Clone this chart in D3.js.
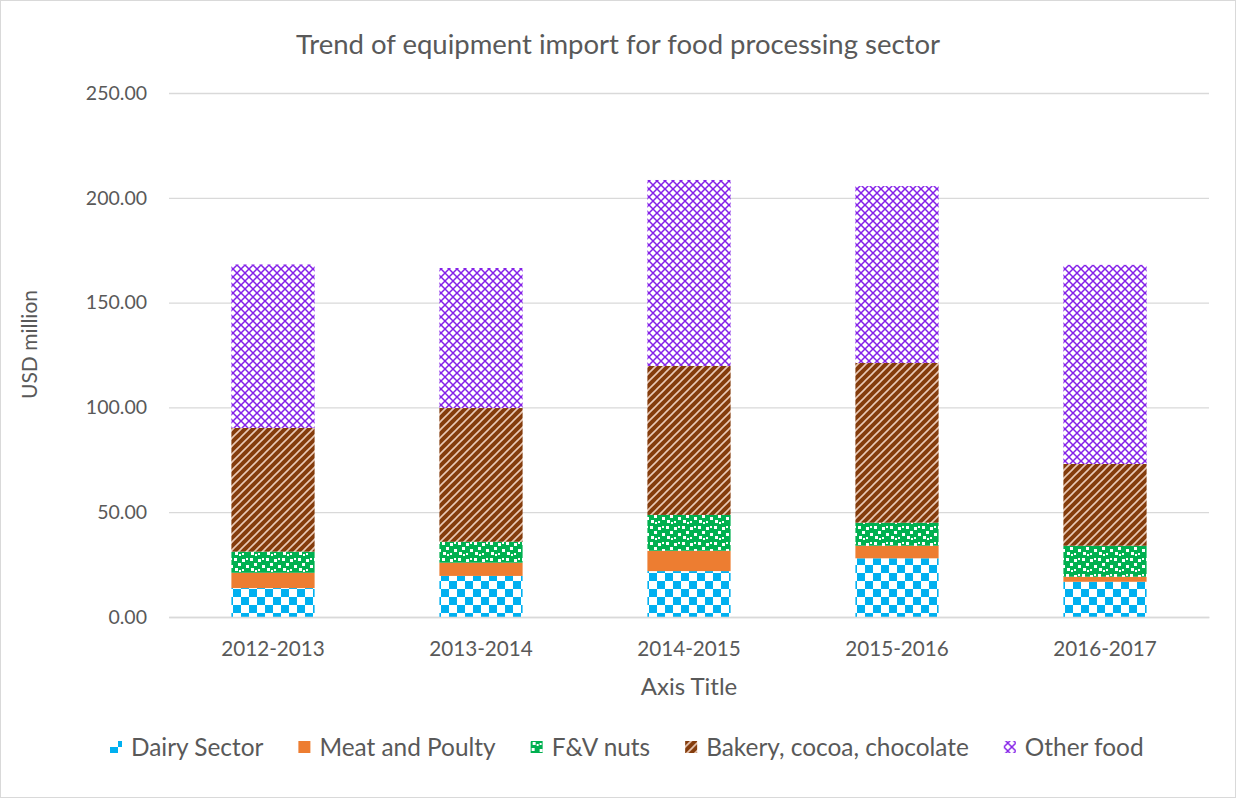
<!DOCTYPE html>
<html><head><meta charset="utf-8">
<script src="https://cdn.jsdelivr.net/npm/d3@7"></script>
<style>body{margin:0;background:#fff}svg{display:block}text{font-family:Lato,"Open Sans",sans-serif;fill:#595959}</style>
</head><body><svg id="c" width="1236" height="798"></svg>
<script>
const categories = ["2012-2013","2013-2014","2014-2015","2015-2016","2016-2017"];
const seriesNames = ["Dairy Sector","Meat and Poulty","F&V nuts","Bakery, cocoa, chocolate","Other food"];
const dairy  = [13.8, 19.6, 21.9, 28.0, 16.8];
const meat   = [7.3, 6.3, 9.7, 6.0, 2.4];
const fvnuts = [10.1, 10.0, 17.1, 11.0, 14.8];
const bakery = [59.0, 63.8, 71.1, 76.2, 39.0];
const other  = [78.0, 66.8, 88.7, 84.4, 95.0];
const yTicks = [0, 50, 100, 150, 200, 250];

const svg = d3.select("#c");
const W = 1236, H = 798;
const m = {left:169, right:27, top:93, bottom:181};
const iw = W - m.left - m.right, ih = H - m.top - m.bottom;

svg.append("rect").attr("x",0.5).attr("y",0.5).attr("width",W-1).attr("height",H-1)
  .attr("fill","#fff").attr("stroke","#D9D9D9");

const defs = svg.append("defs");
let p = defs.append("pattern").attr("id","p0").attr("patternUnits","userSpaceOnUse").attr("width",16).attr("height",16);
p.append("rect").attr("width",16).attr("height",16).attr("fill","#fff");
p.append("rect").attr("width",8).attr("height",8).attr("fill","#00B0F0");
p.append("rect").attr("x",8).attr("y",8).attr("width",8).attr("height",8).attr("fill","#00B0F0");
p = defs.append("pattern").attr("id","p2").attr("patternUnits","userSpaceOnUse").attr("width",16).attr("height",16);
p.append("rect").attr("width",16).attr("height",16).attr("fill","#00B050");
[[1,1,3,3],[9,2,3,3],[5,6,3,3],[13,8,3,3],[2,11,3,3],[9,12,2,2],[13,1,2,2],[6,13,2,2]].forEach(r=>
  p.append("rect").attr("x",r[0]).attr("y",r[1]).attr("width",r[2]).attr("height",r[3]).attr("fill","#fff"));
p = defs.append("pattern").attr("id","p3").attr("patternUnits","userSpaceOnUse").attr("width",8).attr("height",8);
p.append("rect").attr("width",8).attr("height",8).attr("fill","#843C0C");
p.append("path").attr("d","M-2,10 L10,-2 M-2,2 L2,-2 M6,10 L10,6").attr("stroke","#E9C9B6").attr("stroke-width",1.6);
p = defs.append("pattern").attr("id","p4").attr("patternUnits","userSpaceOnUse").attr("width",8).attr("height",8);
p.append("rect").attr("width",8).attr("height",8).attr("fill","#fff");
p.append("path").attr("d","M0,0 L8,8 M8,0 L0,8").attr("stroke","#8420E8").attr("stroke-width",1.5);
const fills = ["url(#p0)","#ED7D31","url(#p2)","url(#p3)","url(#p4)"];

const g = svg.append("g").attr("transform",`translate(${m.left},${m.top})`);
const x = d3.scaleBand().domain(categories).range([0,iw]).paddingInner(0.6).paddingOuter(0.3);
const y = d3.scaleLinear().domain([0,250]).range([ih,0]);

g.append("g").selectAll("line").data(yTicks).join("line")
  .attr("x1",0).attr("x2",iw).attr("y1",d=>y(d)+0.5).attr("y2",d=>y(d)+0.5)
  .attr("stroke","#D9D9D9").attr("stroke-width",1.3);

const rows = categories.map((c,i)=>({cat:c, v:[dairy[i],meat[i],fvnuts[i],bakery[i],other[i]]}));
const stackData = d3.stack().keys([0,1,2,3,4]).value((d,k)=>d.v[k])(rows);
g.append("g").selectAll("g").data(stackData).join("g").attr("fill",(d,i)=>fills[i])
  .selectAll("rect").data(d=>d).join("rect")
  .attr("x",d=>x(d.data.cat)).attr("width",x.bandwidth())
  .attr("y",d=>y(d[1])).attr("height",d=>y(d[0])-y(d[1]));

const yAxis = g.append("g").call(d3.axisLeft(y).tickValues(yTicks).tickFormat(d3.format(".2f")).tickSize(0).tickPadding(22));
yAxis.select(".domain").remove();
yAxis.selectAll("text").attr("font-size",19.5).attr("font-family","Lato").attr("fill","#595959");

const xAxis = g.append("g").attr("transform",`translate(0,${ih})`).call(d3.axisBottom(x).tickSize(0).tickPadding(24));
xAxis.select(".domain").attr("stroke","#D9D9D9").attr("stroke-width",1.3);
xAxis.selectAll("text").attr("font-size",20.7).attr("font-family","Lato").attr("fill","#595959");

svg.append("text").attr("x",W/2).attr("y",54).attr("text-anchor","middle")
  .attr("font-size",27.5).text("Trend of equipment import for food processing sector");
svg.append("text").attr("x",m.left+iw/2).attr("y",695).attr("text-anchor","middle")
  .attr("font-size",24).text("Axis Title");
svg.append("text").attr("transform",`translate(37,${m.top+y(130)}) rotate(-90)`).attr("text-anchor","middle")
  .attr("font-size",21).text("USD million");

const lg = svg.append("g").attr("transform","translate(0,747)");
const items = lg.selectAll("g").data(seriesNames).join("g");
items.append("rect").attr("width",12).attr("height",12).attr("y",-6).attr("fill",(d,i)=>fills[i]);
items.append("text").attr("x",21).attr("dy","0.35em").attr("font-size",24.4).text(d=>d);
let widths = [];
items.each(function(){ widths.push(21 + d3.select(this).select("text").node().getComputedTextLength()); });
const gap = 35;
let cx = 110;
items.attr("transform",(d,i)=>{ const t=`translate(${cx},0)`; cx += widths[i]+gap; return t; });
</script></body></html>
